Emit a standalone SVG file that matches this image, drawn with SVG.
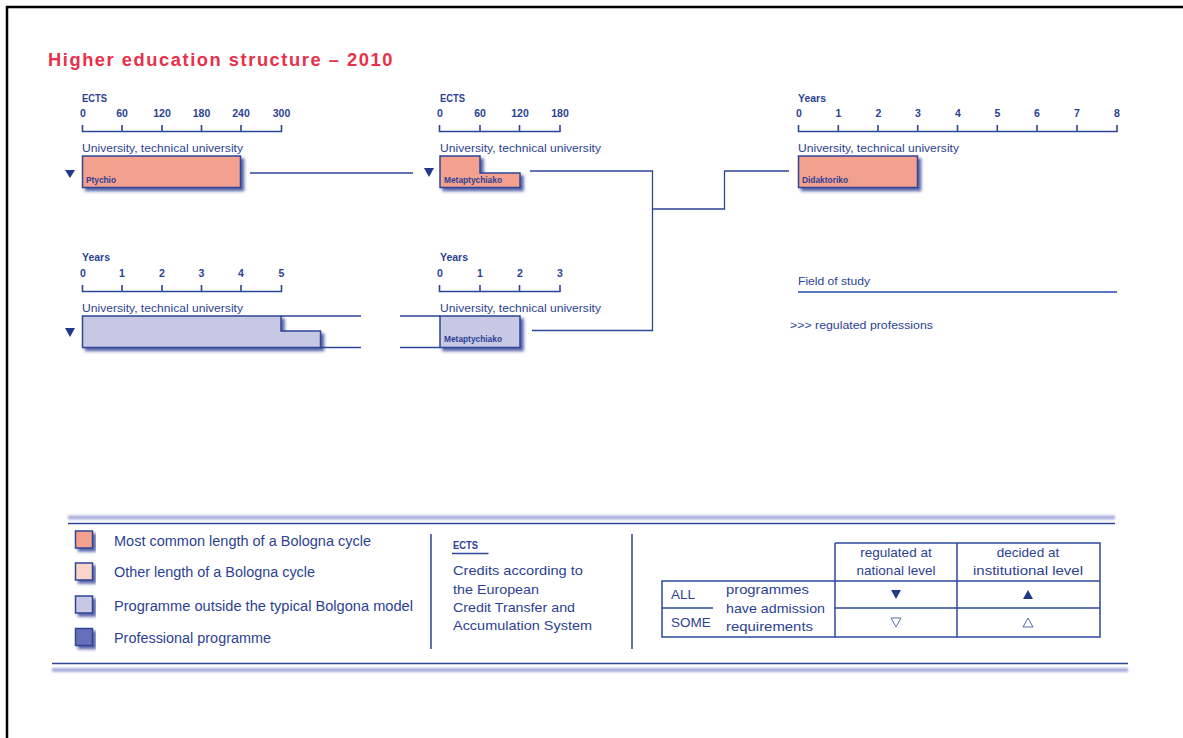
<svg xmlns="http://www.w3.org/2000/svg" width="1183" height="738" viewBox="0 0 1183 738">
<defs>
<filter id="sh" x="-10%" y="-20%" width="130%" height="160%">
<feDropShadow dx="3" dy="3" stdDeviation="1.6" flood-color="#22338a" flood-opacity="0.75"/>
</filter>
<filter id="blur" filterUnits="userSpaceOnUse" x="0" y="500" width="1183" height="190">
<feGaussianBlur stdDeviation="1.2"/>
</filter>
<style>
text{font-family:"Liberation Sans",Arial,sans-serif;fill:#2c3f93}
.ax{fill:none;stroke:#2d4596;stroke-width:1.6}
.tk{font-size:10.5px;text-anchor:middle;font-weight:bold}
.hd{font-size:11px;font-weight:bold}
.un{font-size:11.5px}
.bl{font-size:9.5px;font-weight:bold}
.ln{fill:none;stroke:#2d4596;stroke-width:1.3}
.box{stroke:#2d4596;stroke-width:1.5;filter:url(#sh)}
.c1{fill:#f4a08f}
.c2{fill:#fbd3c9}
.c3{fill:#c6c8e4}
.c4{fill:#6670b8}
.tri{fill:#22388c}
.lg{font-size:14px}
.tb{font-size:13.5px}
.tc{font-size:13.5px;text-anchor:middle}
.tl{fill:none;stroke:#2d4a9c;stroke-width:1.5}
</style>
</defs>
<rect width="1183" height="738" fill="#fff"/>
<path d="M7 738V7H1183" fill="none" stroke="#000" stroke-width="2.5"/>
<text x="48" y="66" font-size="18" font-weight="bold" letter-spacing="1.5" style="fill:#e8304a" textLength="346" lengthAdjust="spacingAndGlyphs">Higher education structure – 2010</text>

<g id="scale-ects-1">
<text class="hd" x="82" y="102" textLength="25" lengthAdjust="spacingAndGlyphs">ECTS</text>
<text class="tk" x="83" y="117">0</text><text class="tk" x="122" y="117">60</text><text class="tk" x="162" y="117">120</text><text class="tk" x="201.5" y="117">180</text><text class="tk" x="241" y="117">240</text><text class="tk" x="281.5" y="117">300</text>
<path class="ax" d="M82.5 125V131.5H281.5V125M122 125V131.5M162 125V131.5M201.5 125V131.5M241 125V131.5"/>
<text class="un" x="82" y="152" textLength="161" lengthAdjust="spacingAndGlyphs">University, technical university</text>
</g>
<g id="node-ptychio">
<polygon class="tri" points="65,170 75,170 70,178"/>
<rect class="box c1" x="82.5" y="156" width="158" height="31.5"/>
<text class="bl" x="86" y="183" textLength="30" lengthAdjust="spacingAndGlyphs">Ptychio</text>
</g>

<g id="scale-ects-2">
<text class="hd" x="440" y="102" textLength="25" lengthAdjust="spacingAndGlyphs">ECTS</text>
<text class="tk" x="440" y="117">0</text><text class="tk" x="480" y="117">60</text><text class="tk" x="520" y="117">120</text><text class="tk" x="560" y="117">180</text>
<path class="ax" d="M439.5 125V131.5H560V125M480 125V131.5M519.5 125V131.5"/>
<text class="un" x="440" y="152" textLength="161" lengthAdjust="spacingAndGlyphs">University, technical university</text>
</g>
<g id="node-metaptychiako-1">
<polygon class="tri" points="424,168 434,168 429,177"/>
<polygon class="box c1" points="440,156 480,156 480,173 520,173 520,187.5 440,187.5"/>
<text class="bl" x="444" y="183" textLength="58" lengthAdjust="spacingAndGlyphs">Metaptychiako</text>
</g>

<g id="scale-years-3">
<text class="hd" x="798" y="102" textLength="28" lengthAdjust="spacingAndGlyphs">Years</text>
<text class="tk" x="799" y="117">0</text><text class="tk" x="838.5" y="117">1</text><text class="tk" x="878.5" y="117">2</text><text class="tk" x="918" y="117">3</text><text class="tk" x="958" y="117">4</text><text class="tk" x="997.5" y="117">5</text><text class="tk" x="1037" y="117">6</text><text class="tk" x="1077" y="117">7</text><text class="tk" x="1117" y="117">8</text>
<path class="ax" d="M798.5 125V131.5H1117V125M838.3 125V131.5M878 125V131.5M917.7 125V131.5M957.5 125V131.5M997.3 125V131.5M1037 125V131.5M1077 125V131.5"/>
<text class="un" x="798" y="152" textLength="161" lengthAdjust="spacingAndGlyphs">University, technical university</text>
</g>
<g id="node-didaktoriko">
<rect class="box c1" x="798.5" y="156" width="119" height="31.5"/>
<text class="bl" x="802" y="183" textLength="46" lengthAdjust="spacingAndGlyphs">Didaktoriko</text>
</g>

<g id="scale-years-4">
<text class="hd" x="82" y="261" textLength="28" lengthAdjust="spacingAndGlyphs">Years</text>
<text class="tk" x="83" y="277">0</text><text class="tk" x="122" y="277">1</text><text class="tk" x="162" y="277">2</text><text class="tk" x="201.5" y="277">3</text><text class="tk" x="241" y="277">4</text><text class="tk" x="281.5" y="277">5</text>
<path class="ax" d="M82.5 285V291.5H281.5V285M122 285V291.5M162 285V291.5M201.5 285V291.5M241 285V291.5"/>
<text class="un" x="82" y="312" textLength="161" lengthAdjust="spacingAndGlyphs">University, technical university</text>
</g>
<g id="node-university-long">
<polygon class="tri" points="65,328 75,328 70,337"/>
<polygon class="box c3" points="82.5,316 281,316 281,331 320.5,331 320.5,347.5 82.5,347.5"/>
</g>

<g id="scale-years-5">
<text class="hd" x="440" y="261" textLength="28" lengthAdjust="spacingAndGlyphs">Years</text>
<text class="tk" x="440" y="277">0</text><text class="tk" x="480" y="277">1</text><text class="tk" x="520" y="277">2</text><text class="tk" x="560" y="277">3</text>
<path class="ax" d="M439.5 285V291.5H560V285M480 285V291.5M519.5 285V291.5"/>
<text class="un" x="440" y="312" textLength="161" lengthAdjust="spacingAndGlyphs">University, technical university</text>
</g>
<g id="node-metaptychiako-2">
<rect class="box c3" x="440" y="316" width="80" height="31.5"/>
<text class="bl" x="444" y="342" textLength="58" lengthAdjust="spacingAndGlyphs">Metaptychiako</text>
</g>

<g id="connectors">
<path class="ln" d="M250 173H413"/>
<path class="ln" d="M530 171H652.5V330.5H532"/>
<path class="ln" d="M652.5 209H724.5V171H789"/>
<path class="ln" d="M281 316H361M320.5 347.5H361M400 316H440M400 347.5H440"/>
</g>

<g id="field-of-study">
<text class="un" x="798" y="285" textLength="72" lengthAdjust="spacingAndGlyphs">Field of study</text>
<path d="M798 292H1117" stroke="#5a76c0" stroke-width="1.8"/>
<text class="un" x="790" y="329" textLength="143" lengthAdjust="spacingAndGlyphs">&gt;&gt;&gt;  regulated professions</text>
</g>

<g id="legend">
<rect x="68" y="515.5" width="1047" height="4" fill="#a9aedb" filter="url(#blur)"/>
<path d="M68 523.5H1115" stroke="#2d4596" stroke-width="1.5"/>
<path d="M52 663.5H1128" stroke="#2d4596" stroke-width="1.5"/>
<rect x="52" y="668" width="1076" height="4" fill="#a9aedb" filter="url(#blur)"/>
<g id="legend-items">
<rect class="box c1" x="75.5" y="531" width="17" height="17"/>
<rect class="box c2" x="75.5" y="563" width="17" height="17"/>
<rect class="box c3" x="75.5" y="596" width="17" height="17"/>
<rect class="box c4" x="75.5" y="628.5" width="17" height="17"/>
<text class="lg" x="114" y="546" textLength="257" lengthAdjust="spacingAndGlyphs">Most common length of a Bologna cycle</text>
<text class="lg" x="114" y="577" textLength="201" lengthAdjust="spacingAndGlyphs">Other length of a Bologna cycle</text>
<text class="lg" x="114" y="610.5" textLength="299" lengthAdjust="spacingAndGlyphs">Programme outside the typical Bolgona model</text>
<text class="lg" x="114" y="643" textLength="157" lengthAdjust="spacingAndGlyphs">Professional programme</text>
</g>
<path d="M431 534V649M632 534V649" stroke="#2d4596" stroke-width="1.5"/>
<g id="legend-ects">
<text x="453" y="548.5" font-size="11" font-weight="bold" textLength="25" lengthAdjust="spacingAndGlyphs">ECTS</text>
<path d="M452 553.5H488.5" stroke="#2d4596" stroke-width="1.3"/>
<text class="tb" x="453" y="575" textLength="130" lengthAdjust="spacingAndGlyphs">Credits according to</text>
<text class="tb" x="453" y="593.5" textLength="86" lengthAdjust="spacingAndGlyphs">the European</text>
<text class="tb" x="453" y="611.5" textLength="122" lengthAdjust="spacingAndGlyphs">Credit Transfer and</text>
<text class="tb" x="453" y="630" textLength="139" lengthAdjust="spacingAndGlyphs">Accumulation System</text>
</g>
<g id="legend-table">
<path class="tl" d="M835 543H1100V637H662V581H1100M835 543V637M957 543V637M835 608H1100M662 608H713"/>
<text class="tc" x="896" y="557">regulated at</text>
<text class="tc" x="896" y="575">national level</text>
<text class="tc" x="1028" y="557">decided at</text>
<text class="tc" x="1028" y="575" textLength="110" lengthAdjust="spacingAndGlyphs">institutional level</text>
<text class="tb" x="671" y="599">ALL</text>
<text class="tb" x="671" y="627">SOME</text>
<text class="tb" x="726" y="594" textLength="83" lengthAdjust="spacingAndGlyphs">programmes</text>
<text class="tb" x="726" y="613" textLength="99" lengthAdjust="spacingAndGlyphs">have admission</text>
<text class="tb" x="726" y="631" textLength="87" lengthAdjust="spacingAndGlyphs">requirements</text>
<polygon points="891,590 901,590 896,599" fill="#22388c"/>
<polygon points="1023,599 1033,599 1028,590" fill="#22388c"/>
<polygon points="891,618 901,618 896,627" fill="none" stroke="#5a6aa8" stroke-width="1"/>
<polygon points="1023,627 1033,627 1028,618" fill="none" stroke="#5a6aa8" stroke-width="1"/>
</g>
</g>
</svg>
